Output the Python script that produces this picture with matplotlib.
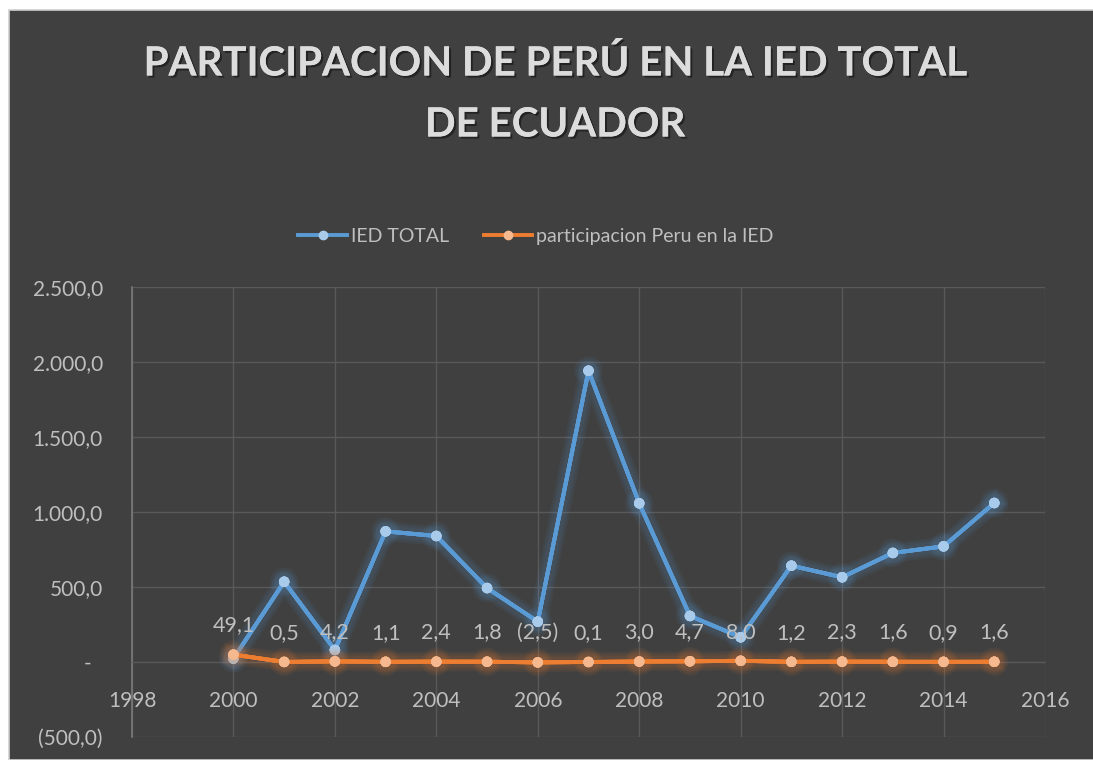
import matplotlib
matplotlib.use("Agg")
import matplotlib.pyplot as plt
import matplotlib.patheffects as pe
from matplotlib.patches import Rectangle
from matplotlib.lines import Line2D
from matplotlib.ticker import FuncFormatter

years = list(range(2000, 2016))
ied_total = [23, 535, 80, 871, 840, 493, 269, 1942, 1058, 307, 165, 642, 565, 727, 771, 1060]
part_peru = [49.1, 0.5, 4.2, 1.1, 2.4, 1.8, -2.5, 0.1, 3.0, 4.7, 8.0, 1.2, 2.3, 1.6, 0.9, 1.6]
series_names = ["IED TOTAL", "participacion Peru en la IED"]

title = "PARTICIPACION DE PERÚ EN LA IED TOTAL\nDE ECUADOR"
BG = "#404040"
TXT = "#bfbfbf"
BLUE, BLUE_M = "#5b9bd5", "#a9cbeb"
ORANGE, ORANGE_M = "#ed7d31", "#f6b98f"

plt.rcParams["font.family"] = ["Lato", "DejaVu Sans"]


def fmt_num(v, decimals=1):
    s = f"{abs(v):,.{decimals}f}".replace(",", "X").replace(".", ",").replace("X", ".")
    return f"({s})" if v < 0 else s


def ytick_fmt(v, pos):
    if abs(v) < 1e-9:
        return "-  "
    return fmt_num(v)


def glow(color):
    # soft glow: a few wide, faint strokes under the line
    return [pe.withStroke(linewidth=w, foreground=color, alpha=0.07) for w in (14, 11, 8)] + [pe.Normal()]


fig = plt.figure(figsize=(10.93, 7.6), dpi=100, facecolor="white")
fig.patches.append(Rectangle((9 / 1093, 0), 1, 750 / 760, transform=fig.transFigure,
                             facecolor=BG, edgecolor="#d0d0d0", linewidth=1.2, zorder=-10))

ax = fig.add_axes([132 / 1093, 23 / 760, 913 / 1093, 450 / 760])
ax.patch.set_alpha(0)

ax.plot(years, ied_total, color=BLUE, lw=2.8, marker="o", ms=6.5, mfc=BLUE_M, mec=BLUE_M,
        path_effects=glow(BLUE), zorder=3)
ax.plot(years, part_peru, color=ORANGE, lw=2.8, marker="o", ms=6.5, mfc=ORANGE_M, mec=ORANGE_M,
        path_effects=glow(ORANGE), zorder=4)

for x, v in zip(years, part_peru):
    ax.annotate(fmt_num(v), (x, v), xytext=(0, 21), textcoords="offset points",
                ha="center", va="center", color=TXT, fontsize=15.5, zorder=5)

ax.set_xlim(1998, 2016)
ax.set_ylim(-500, 2500)
ax.set_xticks(range(1998, 2017, 2))
ax.set_yticks(range(-500, 2501, 500))
ax.yaxis.set_major_formatter(FuncFormatter(ytick_fmt))
ax.grid(True, color="#595959", lw=1)
ax.set_axisbelow(True)

for s in ["top", "right"]:
    ax.spines[s].set_visible(False)
ax.spines["left"].set_color("#7a7a7a")
ax.spines["left"].set_linewidth(1.2)
ax.spines["bottom"].set_position(("data", 0))
ax.spines["bottom"].set_color("#595959")
ax.tick_params(axis="both", length=0, colors=TXT, labelsize=15)
ax.tick_params(axis="x", pad=21)
ax.tick_params(axis="y", pad=21)

fig.text(555 / 1093, 1 - 94 / 760, title, ha="center", va="center", fontsize=29,
         fontweight="bold", color="#dcdcdc", linespacing=1.8,
         path_effects=[pe.withSimplePatchShadow(offset=(1.5, -1.5), shadow_rgbFace="black", alpha=0.45),
                       pe.Normal()])

handles = [Line2D([], [], color=BLUE, lw=2.8, marker="o", ms=6, mfc=BLUE_M, mec=BLUE_M),
           Line2D([], [], color=ORANGE, lw=2.8, marker="o", ms=6, mfc=ORANGE_M, mec=ORANGE_M)]
fig.legend(handles, series_names, loc="center", bbox_to_anchor=(536 / 1093, 1 - 236 / 760),
           ncol=2, frameon=False, fontsize=14, handlelength=2.5, columnspacing=1.8,
           handletextpad=0.2, labelcolor=TXT)

fig.savefig("out.png", dpi=100, facecolor="white")
